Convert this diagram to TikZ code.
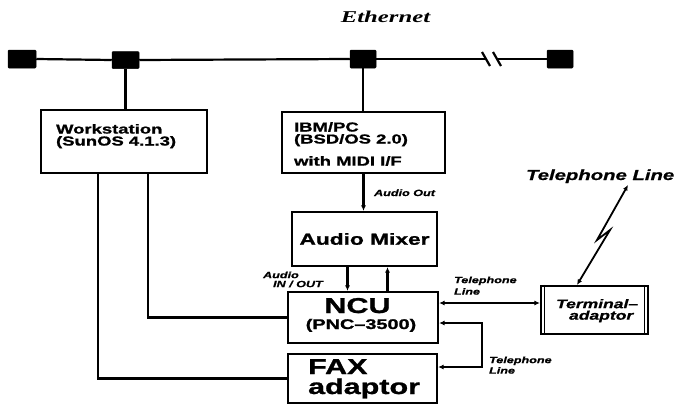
\documentclass[tikz,border=0pt]{standalone}
\usepackage{fontspec}
\newfontfamily\boxf[FakeStretch=1.42,FakeBold=1.2]{Liberation Sans}
\newfontfamily\labf[FakeStretch=1.4,FakeBold=0.8]{Liberation Sans}
\newfontfamily\ethf[FakeStretch=1.5]{Liberation Serif}
\usetikzlibrary{arrows.meta}
\begin{document}
\begin{tikzpicture}[x=1pt,y=-1pt,line width=2.2pt,
  box/.style={draw,line width=2.2pt,inner sep=0pt},
  sq/.style={fill=black,draw=black,line width=0.5pt,inner sep=0pt,rounded corners=1pt},
  boxtext/.style={inner sep=0pt,align=left,font={\boxf\bfseries\fontsize{13}{12}\selectfont}},
  lab/.style={inner sep=0pt,align=left,font={\labf\bfseries\itshape\fontsize{9}{10}\selectfont}},
  arr/.style={-{Latex[length=5.5pt,width=5pt]}},
  dbl/.style={{Latex[length=5.5pt,width=5pt]}-{Latex[length=5.5pt,width=5pt]}}]
\path[fill=white,use as bounding box] (0,0) rectangle (678,407);

% Ethernet
\node[inner sep=0pt,anchor=base,font={\ethf\bfseries\itshape\fontsize{16.5}{18}\selectfont}] (eth) at (385.5,22) {Ethernet};
\coordinate (b1) at (486,59);
\coordinate (b2) at (497,59);
\node[sq,minimum width=28pt,minimum height=18pt] (s1) at (22,59) {};
\node[sq,minimum width=27pt,minimum height=17pt] (s2) at (125.5,60) {};
\node[sq,minimum width=26pt,minimum height=18pt] (s3) at (363,59) {};
\node[sq,minimum width=26pt,minimum height=18pt] (s4) at (560,59) {};
\draw (s1.east) -- (s2.west);
\draw (s2.east) -- (s3.west);
\draw (s3.east) -- (b1);
\draw (b2) -- (s4.west);
\draw ([shift={(-4,-7)}]b1) -- ([shift={(4,7)}]b1);
\draw ([shift={(-4,-7)}]b2) -- ([shift={(4,7)}]b2);

% boxes
\node[box,minimum width=166pt,minimum height=63pt] (ws) at (124,141.5) {};
\node[box,minimum width=163pt,minimum height=61pt] (ibm) at (363.5,142.5) {};
\node[box,minimum width=145pt,minimum height=54pt,font={\boxf\bfseries\fontsize{16}{18}\selectfont}] (mixer) at (364.5,239) {Audio Mixer};
\node[box,minimum width=150pt,minimum height=51pt] (ncu) at (363,317.5) {};
\node[box,minimum width=149pt,minimum height=49pt] (fax) at (362.5,378.5) {};
\node[box,minimum width=107pt,minimum height=48pt] (ta) at (594.5,310) {};
\draw[line width=1pt] ([xshift=4.5pt]ta.north west) -- ([xshift=4.5pt]ta.south west);
\draw[line width=1pt] ([xshift=-4.5pt]ta.north east) -- ([xshift=-4.5pt]ta.south east);

% box texts
\node[boxtext,anchor=north west] (wst) at (55,123) {Workstation\\(SunOS 4.1.3)};
\node[boxtext,anchor=north west] (ibmt) at (293,121) {IBM/PC\\(BSD/OS 2.0)\\[9pt]with MIDI I/F};
\node[inner sep=0pt,anchor=base,font={\boxf\bfseries\fontsize{21.5}{24}\selectfont}] (ncut) at (357.5,313) {NCU};
\node[inner sep=0pt,anchor=base,font={\boxf\bfseries\fontsize{14}{16}\selectfont}] (pnct) at (361,329) {(PNC–3500)};
\node[inner sep=0pt,anchor=base west,font={\boxf\bfseries\fontsize{21.5}{24}\selectfont}] (faxt1) at (307,374) {FAX};
\node[inner sep=0pt,anchor=base west,font={\boxf\bfseries\fontsize{21.5}{24}\selectfont}] (faxt2) at (307,394) {adaptor};
\node[inner sep=0pt,anchor=north west,align=left,font={\labf\bfseries\itshape\fontsize{12.5}{11.5}\selectfont}] (tat) at (555,298) {Terminal–\\\hspace*{13pt}adaptor};

% connectors
\draw (s2.south) -- (s2.south |- ws.north);
\draw (s3.south) -- (s3.south |- ibm.north);
\draw ([xshift=58pt]ws.south west) |- (fax.west);
\draw ([xshift=108pt]ws.south west) |- (ncu.west);
\draw[arr] (ibm.south) -- (ibm.south |- mixer.north);
\draw[arr] ([xshift=-17pt]mixer.south) -- ([xshift=-17pt]mixer.south |- ncu.north);
\draw[arr] ([xshift=23pt]mixer.south |- ncu.north) -- ([xshift=23pt]mixer.south);
\draw[dbl,line width=1.8pt] ([yshift=14.5pt]ncu.east) -- ([yshift=14.5pt]ncu.east -| ta.west);
\draw[dbl] ([yshift=-5.5pt]ncu.east) -- ++(43,0) |- ([yshift=11.5pt]fax.east);
\coordinate (tl) at (628,185);
\draw[dbl,line width=1.8pt] ([xshift=-17.5pt]ta.north) -- (610,230) -- (597,240) -- (tl);

% labels
\node[lab,anchor=base west] (ao) at (373,196) {Audio Out};
\node[lab,anchor=north west,font={\labf\bfseries\itshape\fontsize{9}{9}\selectfont}] (aio) at (262,270.5) {Audio\\\hspace*{10pt}IN / OUT};
\node[lab,anchor=north west,font={\labf\bfseries\itshape\fontsize{9}{11.5}\selectfont}] (tel1) at (453,275.5) {Telephone\\Line};
\node[lab,anchor=north west,font={\labf\bfseries\itshape\fontsize{9}{10.5}\selectfont}] (tel2) at (488,355.5) {Telephone\\Line};
\node[inner sep=0pt,anchor=base west,font={\labf\bfseries\itshape\fontsize{14.5}{16}\selectfont}] (telbig) at (525,180) {Telephone Line};
\end{tikzpicture}
\end{document}
